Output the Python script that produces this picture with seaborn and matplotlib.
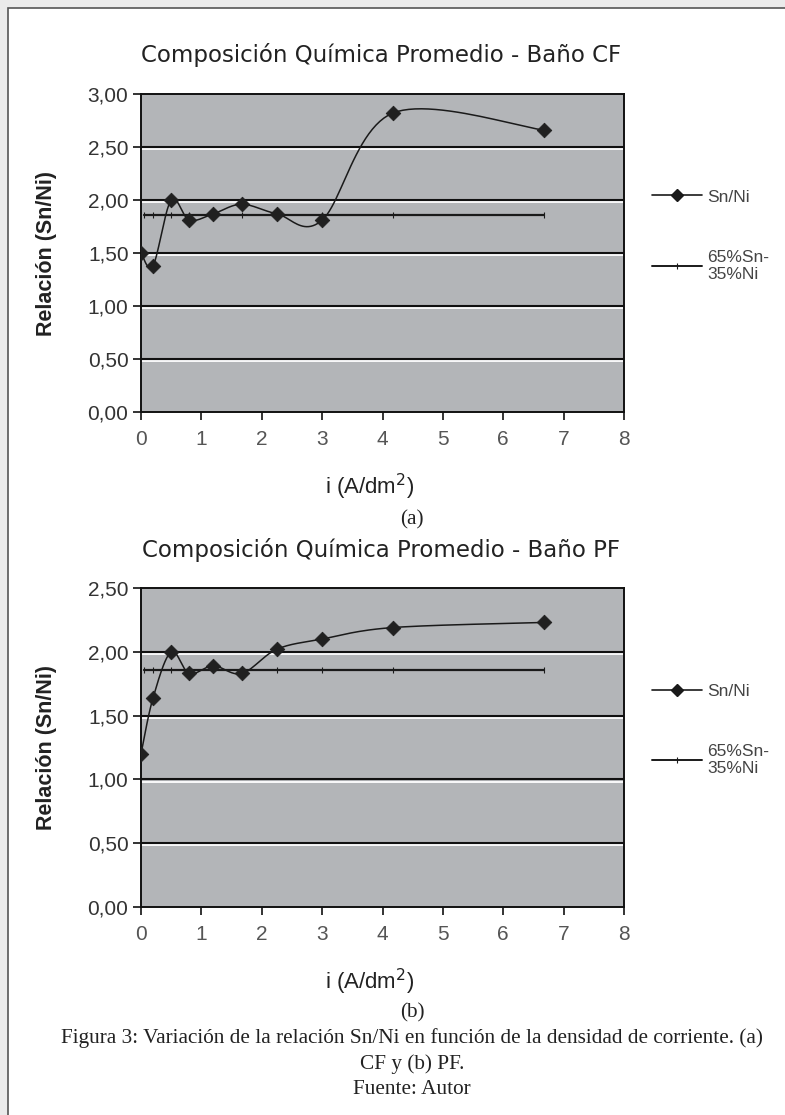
import numpy as np
import pandas as pd
import matplotlib
matplotlib.use("Agg")
import matplotlib.pyplot as plt
import matplotlib.transforms as mtransforms
from matplotlib.lines import Line2D
from matplotlib.patches import Rectangle
import seaborn as sns

# data
i_cf   = [0, 0.2, 0.5, 0.8, 1.2, 1.67, 2.25, 3.0, 4.17, 6.67]
snni_cf = [1.50, 1.38, 2.00, 1.81, 1.87, 1.96, 1.87, 1.81, 2.82, 2.66]

i_pf   = [0, 0.2, 0.5, 0.8, 1.2, 1.67, 2.25, 3.0, 4.17, 6.67]
snni_pf = [1.20, 1.64, 2.00, 1.83, 1.89, 1.83, 2.02, 2.10, 2.19, 2.23]

# reference alloy 65%Sn-35%Ni -> 65/35
ref_x = [0.05, 0.2, 0.5, 0.8, 1.2, 1.67, 2.25, 3.0, 4.17, 6.67]
ref_y = [1.86, 1.86, 1.86, 1.86, 1.86, 1.86, 1.86, 1.86, 1.86, 1.86]

xticks = [0, 1, 2, 3, 4, 5, 6, 7, 8]
yticks_cf = [0, 0.5, 1.0, 1.5, 2.0, 2.5, 3.0]
yticks_pf = [0, 0.5, 1.0, 1.5, 2.0, 2.5]

titles = ["Composición Química Promedio - Baño CF",
          "Composición Química Promedio - Baño PF"]
sub_labels = ["(a)", "(b)"]
legend_labels = ["Sn/Ni", "65%Sn-\n35%Ni"]
caption = ["Figura 3: Variación de la relación Sn/Ni en función de la densidad de corriente. (a)",
           "CF y (b) PF.",
           "Fuente: Autor"]


def smooth(x, y, sx, sy, n=25):
    # excel-like smoothed line (catmull-rom bezier in screen units)
    P = np.column_stack([np.asarray(x, float) * sx, np.asarray(y, float) * sy])
    P = np.vstack([P[0], P, P[-1]])
    t = np.linspace(0, 1, n)[:, None]
    segs = []
    for k in range(1, len(P) - 2):
        p0, p1, p2, p3 = P[k - 1], P[k], P[k + 1], P[k + 2]
        c1 = p1 + (p2 - p0) / 6
        c2 = p2 - (p3 - p1) / 6
        segs.append((1 - t)**3 * p1 + 3 * (1 - t)**2 * t * c1 + 3 * (1 - t) * t**2 * c2 + t**3 * p2)
    pts = np.vstack(segs)
    return pts[:, 0] / sx, pts[:, 1] / sy


sns.set_style("white")
plt.rcParams['font.family'] = ['Liberation Sans', 'DejaVu Sans']

W, H = 785, 1115
fig = plt.figure(figsize=(W / 100, H / 100), dpi=100)
fig.patch.set_facecolor('#ebebeb')
fig.patches.append(Rectangle((8 / W, -0.01), 1, 1.01 - 8 / H, transform=fig.transFigure,
                             facecolor='white', edgecolor='#555555', linewidth=1.2,
                             zorder=-10))

def px(x0, y0, x1, y1):
    return [x0 / W, 1 - y1 / H, (x1 - x0) / W, (y1 - y0) / H]

panels = [
    dict(rect=px(141, 94, 624, 412), x=i_cf, y=snni_cf, yt=yticks_cf, ymax=3.0,
         title_y=55, sub_y=520),
    dict(rect=px(141, 588, 624, 907), x=i_pf, y=snni_pf, yt=yticks_pf, ymax=2.5,
         title_y=550, sub_y=1013),
]

for k, p in enumerate(panels):
    ax = fig.add_axes(p['rect'])
    ax.set_facecolor('#b3b5b8')
    ax.set_xlim(0, 8)
    ax.set_ylim(0, p['ymax'])

    # excel style gridlines: black line with a white highlight below
    white_tr = ax.get_yaxis_transform() + mtransforms.ScaledTranslation(0, -1.6 / 72, fig.dpi_scale_trans)
    for yv in p['yt'][1:-1]:
        ax.plot([0, 1], [yv, yv], transform=white_tr, color='white', lw=1.3, zorder=1)
        ax.axhline(yv, color='#111111', lw=1.5, zorder=1.5)

    sx = 483 / 8
    sy = 318 / p['ymax']
    cx, cy = smooth(p['x'], p['y'], sx, sy)
    curve = pd.DataFrame({'i': cx, 'r': cy})
    sns.lineplot(data=curve, x='i', y='r', sort=False, estimator=None, ax=ax,
                 color='#1a1a1a', lw=1.1, zorder=3)
    ref = pd.DataFrame({'i': ref_x, 'r': ref_y})
    sns.lineplot(data=ref, x='i', y='r', ax=ax, color='#1a1a1a', lw=1.6,
                 marker='|', markersize=4, markeredgewidth=0.8,
                 markeredgecolor='#1a1a1a', zorder=2)
    pts = pd.DataFrame({'i': p['x'], 'r': p['y']})
    sns.scatterplot(data=pts, x='i', y='r', ax=ax, marker='D', s=55,
                    color='#202020', edgecolor='#202020', zorder=4)

    for s in ax.spines.values():
        s.set_visible(True)
        s.set_color('#111111')
        s.set_linewidth(1.4)

    ax.set_xticks(xticks)
    ax.set_xticklabels([str(v) for v in xticks], color='#555555')
    ax.set_yticks(p['yt'])
    ax.set_yticklabels([f"{v:.2f}".replace('.', ',') for v in p['yt']], color='#333333')
    ax.tick_params(axis='both', direction='out', length=6, width=1.2, color='#111111',
                   labelsize=15, bottom=True, left=True)
    ax.tick_params(axis='x', pad=7)
    ax.tick_params(axis='y', pad=3)

    ax.set_ylabel("Relación (Sn/Ni)", fontsize=15.5, fontweight='bold', color='#222222')
    ax.yaxis.set_label_coords(-(141 - 47) / 483, 0.5)
    ax.yaxis.label.set_va('center')
    ax.set_xlabel("i (A/dm$^{2}$)", fontsize=16, color='#222222')
    ax.xaxis.set_label_coords((370 - 141) / 483, -(487 - 412) / 318)
    ax.xaxis.label.set_va('center')

    handles = [Line2D([], [], color='#1a1a1a', lw=1.2, marker='D', markersize=6.5),
               Line2D([], [], color='#1a1a1a', lw=1.4, marker='|', markersize=4, markeredgewidth=0.8)]
    ax.legend(handles, legend_labels, loc='upper left', bbox_to_anchor=(1.058, 0.70),
              frameon=False, fontsize=12.5, handlelength=2.9, handletextpad=0.3,
              labelspacing=2.6, borderpad=0, borderaxespad=0, labelcolor='#444444')

    fig.text(381 / W, 1 - p['title_y'] / H, titles[k], family='DejaVu Sans',
             fontsize=16.5, color='#222222', ha='center', va='center')
    fig.text(412 / W, 1 - p['sub_y'] / H, sub_labels[k], family='Liberation Serif',
             fontsize=15.3, color='#222222', ha='center', va='center')

for line, yy in zip(caption, [1038, 1064, 1089]):
    fig.text(412 / W, 1 - yy / H, line, family='Liberation Serif', fontsize=15.3,
             color='#222222', ha='center', va='center')

fig.savefig("out.png", dpi=100)
